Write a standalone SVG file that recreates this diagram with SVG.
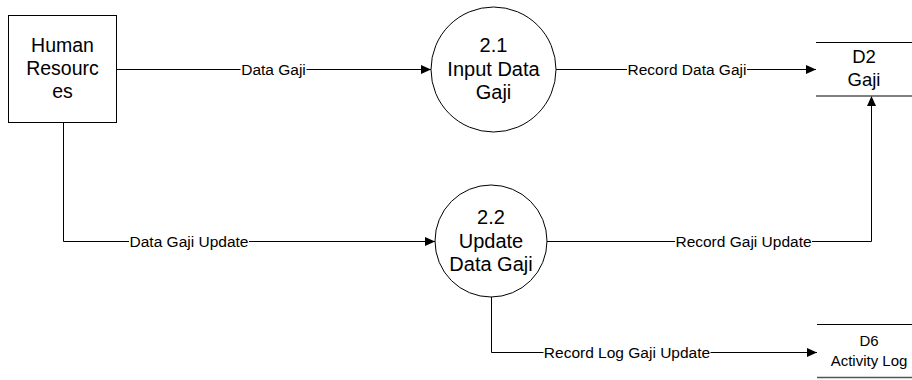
<svg xmlns="http://www.w3.org/2000/svg" width="912" height="380" viewBox="0 0 912 380">
  <style>
    .shape { fill: #ffffff; stroke: #000000; stroke-width: 1; }
    .node-text { font-family: "Liberation Sans", Arial, sans-serif; font-size: 19.5px; fill: #000000; text-anchor: middle; }
    .proc-text { font-family: "Liberation Sans", Arial, sans-serif; font-size: 20px; fill: #000000; text-anchor: middle; }
    .store-text { font-family: "Liberation Sans", Arial, sans-serif; font-size: 18.5px; fill: #000000; text-anchor: middle; }
    .store-small { font-family: "Liberation Sans", Arial, sans-serif; font-size: 15px; fill: #000000; text-anchor: middle; }
    .flow { fill: none; stroke: #000000; stroke-width: 1; }
    .label { font-family: "Liberation Sans", Arial, sans-serif; font-size: 15.5px; fill: #000000; text-anchor: middle; }
    .label-bg { fill: #ffffff; stroke: none; }
    .store-top { stroke: #000000; stroke-width: 1; }
    .store-bottom { stroke: #555555; stroke-width: 1.5; }
  </style>
  <defs>
    <marker id="arrow" viewBox="0 0 10 10" refX="10" refY="5" markerWidth="10" markerHeight="10" markerUnits="userSpaceOnUse" orient="auto">
      <path d="M0,0.5 L10,5 L0,9.5 Z" fill="#000000"/>
    </marker>
  </defs>
  <rect width="912" height="380" fill="#ffffff"/>

  <!-- data flows -->
  <g id="connectors">
    <g id="flow-data-gaji">
      <path class="flow" d="M116.5,69.5 H431" marker-end="url(#arrow)"/>
      <rect class="label-bg" x="240.5" y="60" width="66" height="18"/>
      <text class="label" x="273.5" y="75">Data Gaji</text>
    </g>
    <g id="flow-record-data-gaji">
      <path class="flow" d="M556,69.5 H816" marker-end="url(#arrow)"/>
      <rect class="label-bg" x="627" y="60" width="120" height="18"/>
      <text class="label" x="687" y="75">Record Data Gaji</text>
    </g>
    <g id="flow-data-gaji-update">
      <path class="flow" d="M63.5,123 V241.5 H435" marker-end="url(#arrow)"/>
      <rect class="label-bg" x="129" y="232" width="120" height="18"/>
      <text class="label" x="189" y="247">Data Gaji Update</text>
    </g>
    <g id="flow-record-gaji-update">
      <path class="flow" d="M547,241.5 H871.5 V96" marker-end="url(#arrow)"/>
      <rect class="label-bg" x="675" y="232" width="137" height="18"/>
      <text class="label" x="743.5" y="247">Record Gaji Update</text>
    </g>
    <g id="flow-record-log">
      <path class="flow" d="M491.5,297 V352.5 H817" marker-end="url(#arrow)"/>
      <rect class="label-bg" x="543.5" y="343" width="167" height="18"/>
      <text class="label" x="627" y="358">Record Log Gaji Update</text>
    </g>
  </g>

  <!-- external entity -->
  <g id="human-resources">
    <rect class="shape" x="8.5" y="15.5" width="108" height="107"/>
    <text class="node-text" x="62.5" y="52">Human</text>
    <text class="node-text" x="62.5" y="75">Resourc</text>
    <text class="node-text" x="62.5" y="98">es</text>
  </g>

  <!-- processes -->
  <g id="process-2-1">
    <circle class="shape" cx="493.5" cy="69.5" r="62.5"/>
    <text class="proc-text" x="493.5" y="52">2.1</text>
    <text class="proc-text" x="493.5" y="75.5">Input Data</text>
    <text class="proc-text" x="493.5" y="99">Gaji</text>
  </g>
  <g id="process-2-2">
    <circle class="shape" cx="491" cy="241" r="56"/>
    <text class="proc-text" x="491" y="224">2.2</text>
    <text class="proc-text" x="491" y="247.5">Update</text>
    <text class="proc-text" x="491" y="271">Data Gaji</text>
  </g>

  <!-- data stores -->
  <g id="store-d2">
    <line class="store-top" x1="816" y1="42.5" x2="912" y2="42.5"/>
    <line class="store-bottom" x1="816" y1="96" x2="912" y2="96"/>
    <text class="store-text" x="864" y="63">D2</text>
    <text class="store-text" x="864" y="86">Gaji</text>
  </g>
  <g id="store-d6">
    <line class="store-top" x1="817" y1="324.5" x2="912" y2="324.5"/>
    <line class="store-bottom" x1="817" y1="377.5" x2="912" y2="377.5"/>
    <text class="store-small" x="869" y="346">D6</text>
    <text class="store-small" x="869" y="366">Activity Log</text>
  </g>
</svg>
